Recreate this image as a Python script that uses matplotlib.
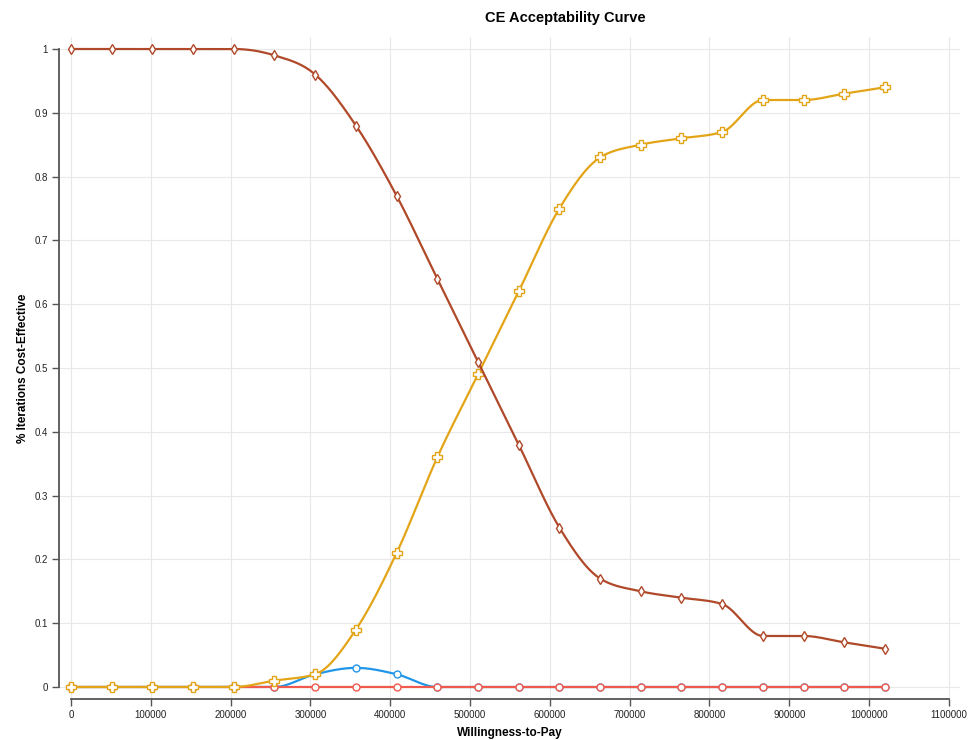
import numpy as np
import matplotlib
matplotlib.use("Agg")
import matplotlib.pyplot as plt

plt.rcParams['font.family'] = ['Liberation Sans', 'DejaVu Sans']

wtp = [0, 51000, 102000, 153000, 204000, 255000, 306000, 357000, 408000, 459000,
       510000, 561000, 612000, 663000, 714000, 765000, 816000, 867000, 918000,
       969000, 1020000]
brown_vals = [1, 1, 1, 1, 1, 0.99, 0.96, 0.88, 0.77, 0.64, 0.51, 0.38, 0.25, 0.17,
              0.15, 0.14, 0.13, 0.08, 0.08, 0.07, 0.06]
yellow_vals = [0, 0, 0, 0, 0, 0.01, 0.02, 0.09, 0.21, 0.36, 0.49, 0.62, 0.75, 0.83,
               0.85, 0.86, 0.87, 0.92, 0.92, 0.93, 0.94]
blue_vals = [0, 0, 0, 0, 0, 0, 0.02, 0.03, 0.02, 0, 0, 0, 0, 0, 0, 0, 0, 0, 0, 0, 0]
red_vals = [0] * 21

x_ticks = list(range(0, 1100001, 100000))
y_ticks = [0, 0.1, 0.2, 0.3, 0.4, 0.5, 0.6, 0.7, 0.8, 0.9, 1]


def monotone_curve(x, y, n=40):
    x = np.asarray(x, float); y = np.asarray(y, float)
    m = len(x)
    h = np.diff(x); s = np.diff(y) / h
    t = np.zeros(m)
    for i in range(1, m - 1):
        h0, h1, s0, s1 = h[i - 1], h[i], s[i - 1], s[i]
        p = (s0 * h1 + s1 * h0) / (h0 + h1)
        t[i] = (np.sign(s0) + np.sign(s1)) * min(abs(s0), abs(s1), 0.5 * abs(p))
    t[0] = (3 * s[0] - t[1]) / 2
    t[-1] = (3 * s[-1] - t[-2]) / 2
    xs, ys = [], []
    for i in range(m - 1):
        u = np.linspace(0, 1, n, endpoint=(i == m - 2))
        dx = h[i]
        h00 = 2 * u**3 - 3 * u**2 + 1
        h10 = u**3 - 2 * u**2 + u
        h01 = -2 * u**3 + 3 * u**2
        h11 = u**3 - u**2
        xs.append(x[i] + u * dx)
        ys.append(h00 * y[i] + h10 * dx * t[i] + h01 * y[i + 1] + h11 * dx * t[i + 1])
    return np.concatenate(xs), np.concatenate(ys)


fig = plt.figure(figsize=(9.68, 7.40), dpi=100)
W, H = 968, 740
left, right, top, bottom = 59, 960, 37, 699
ax = fig.add_axes([left / W, 1 - bottom / H, (right - left) / W, (bottom - top) / H])

xpx = 79.8 / 100000
ypx = 638.0
ax.set_xlim(-12 / xpx, (right - 71) / xpx)
ax.set_ylim(-12 / ypx, (687 - top) / ypx)

series = [
    (blue_vals, '#2196e8', 'o', 5.0),
    (red_vals, '#ef5a4c', 'o', 5.0),
    (yellow_vals, '#e3a517', 'P', 6.5),
    (brown_vals, '#b0492a', 'd', 5.5),
]
for z, (vals, col, mk, ms) in enumerate(series):
    cx, cy = monotone_curve(wtp, vals)
    ax.plot(cx, cy, color=col, lw=1.6, zorder=3 + 2 * z, solid_capstyle='round')
    ax.plot(wtp, vals, ls='none', marker=mk, ms=ms, mfc='white', mec=col,
            mew=1.0, zorder=4 + 2 * z)

ax.set_xticks(x_ticks)
ax.set_xticklabels([str(v) for v in x_ticks])
ax.set_yticks(y_ticks)
ax.set_yticklabels(['%g' % v for v in y_ticks])
ax.grid(True, color='#e8e8e8', lw=0.8, zorder=0)
ax.set_axisbelow(True)

for sp in ['top', 'right']:
    ax.spines[sp].set_visible(False)
ax.spines['left'].set_bounds(0, 1)
ax.spines['bottom'].set_bounds(0, 1100000)
for sp in ['left', 'bottom']:
    ax.spines[sp].set_color('#555555')
    ax.spines[sp].set_linewidth(1.3)
ax.tick_params(axis='both', direction='out', length=5, width=1, color='#555555',
               labelsize=7, labelcolor='#222222', pad=3)

ax.set_xlabel('Willingness-to-Pay', fontsize=8.5, fontweight='bold', labelpad=5)
ax.set_ylabel('% Iterations Cost-Effective', fontsize=8.5, fontweight='bold', labelpad=4)
fig.text(565 / W, 1 - 18 / H, 'CE Acceptability Curve', ha='center', va='center',
         fontsize=10.5, fontweight='bold')

fig.savefig('out.png', dpi=100, facecolor='white')
